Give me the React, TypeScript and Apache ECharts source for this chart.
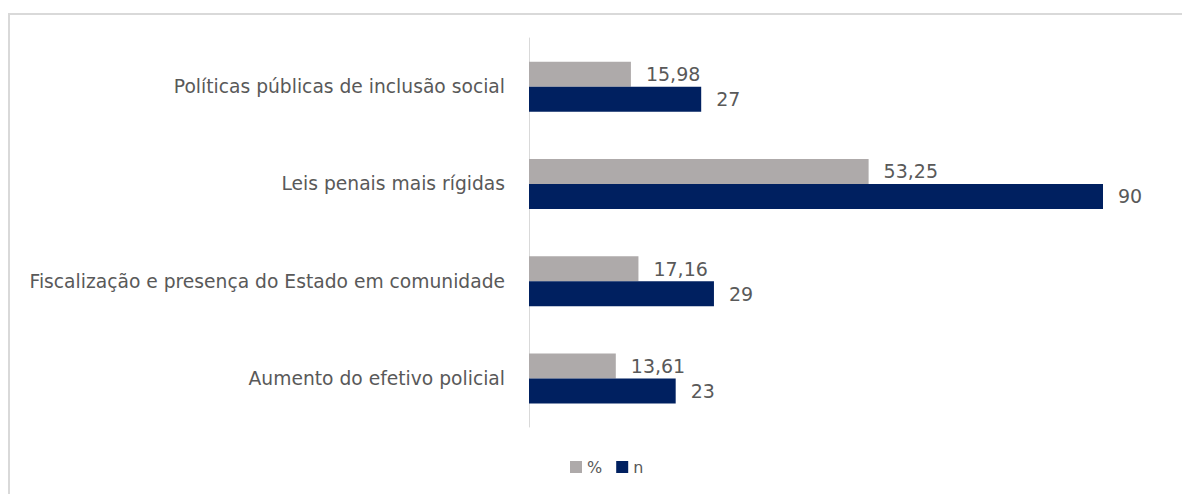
import React, { useEffect, useRef } from "react";
import * as echarts from "echarts";

const categories = [
  "Políticas públicas de inclusão social",
  "Leis penais mais rígidas",
  "Fiscalização e presença do Estado em comunidade",
  "Aumento do efetivo policial",
];
const percentValues = [15.98, 53.25, 17.16, 13.61];
const nValues = [27, 90, 29, 23];
const seriesNames = ["%", "n"];

const FONT = "'DejaVu Sans', sans-serif";
const TEXT = "#595959";

export default function App() {
  const ref = useRef<HTMLDivElement>(null);
  useEffect(() => {
    if (!ref.current) return;
    const chart = echarts.init(ref.current, null, { renderer: "svg" });
    const fmt = (p: any) => String(p.value).replace(".", ",");
    chart.setOption({
      animation: false,
      backgroundColor: "#ffffff",
      textStyle: { fontFamily: FONT },
      grid: { left: 529, right: 79, top: 38, bottom: 67, containLabel: false },
      xAxis: {
        type: "value",
        min: 0,
        max: 90,
        show: false,
      },
      yAxis: {
        type: "category",
        data: categories,
        inverse: true,
        axisLine: { show: true, lineStyle: { color: "#d9d9d9", width: 1 } },
        axisTick: { show: false },
        axisLabel: { color: TEXT, fontSize: 18.7, fontFamily: FONT, margin: 24 },
      },
      legend: {
        bottom: 14,
        left: 565,
        itemWidth: 12,
        itemHeight: 12,
        itemGap: 14,
        itemTextGap: 5,
        icon: "rect",
        textStyle: { color: TEXT, fontSize: 16, fontFamily: FONT },
        data: seriesNames,
      },
      series: [
        {
          name: seriesNames[0],
          type: "bar",
          data: percentValues,
          barWidth: 25,
          barGap: "0%",
          itemStyle: { color: "#AEAAAA" },
          label: {
            show: true,
            position: "right",
            distance: 15,
            color: TEXT,
            fontSize: 19,
            fontFamily: FONT,
            formatter: fmt,
          },
        },
        {
          name: seriesNames[1],
          type: "bar",
          data: nValues,
          barWidth: 25,
          itemStyle: { color: "#002060" },
          label: {
            show: true,
            position: "right",
            distance: 15,
            color: TEXT,
            fontSize: 19,
            fontFamily: FONT,
            formatter: fmt,
          },
        },
      ],
      graphic: [
        {
          type: "line",
          shape: { x1: 9, y1: 14, x2: 9, y2: 494 },
          style: { stroke: "#d9d9d9", lineWidth: 2 },
        },
        {
          type: "line",
          shape: { x1: 8, y1: 14, x2: 1182, y2: 14 },
          style: { stroke: "#d9d9d9", lineWidth: 2 },
        },
      ],
    });
    return () => chart.dispose();
  }, []);
  return (
    <div
      ref={ref}
      style={{ position: "fixed", left: 0, top: 0, width: 1182, height: 494 }}
    />
  );
}
